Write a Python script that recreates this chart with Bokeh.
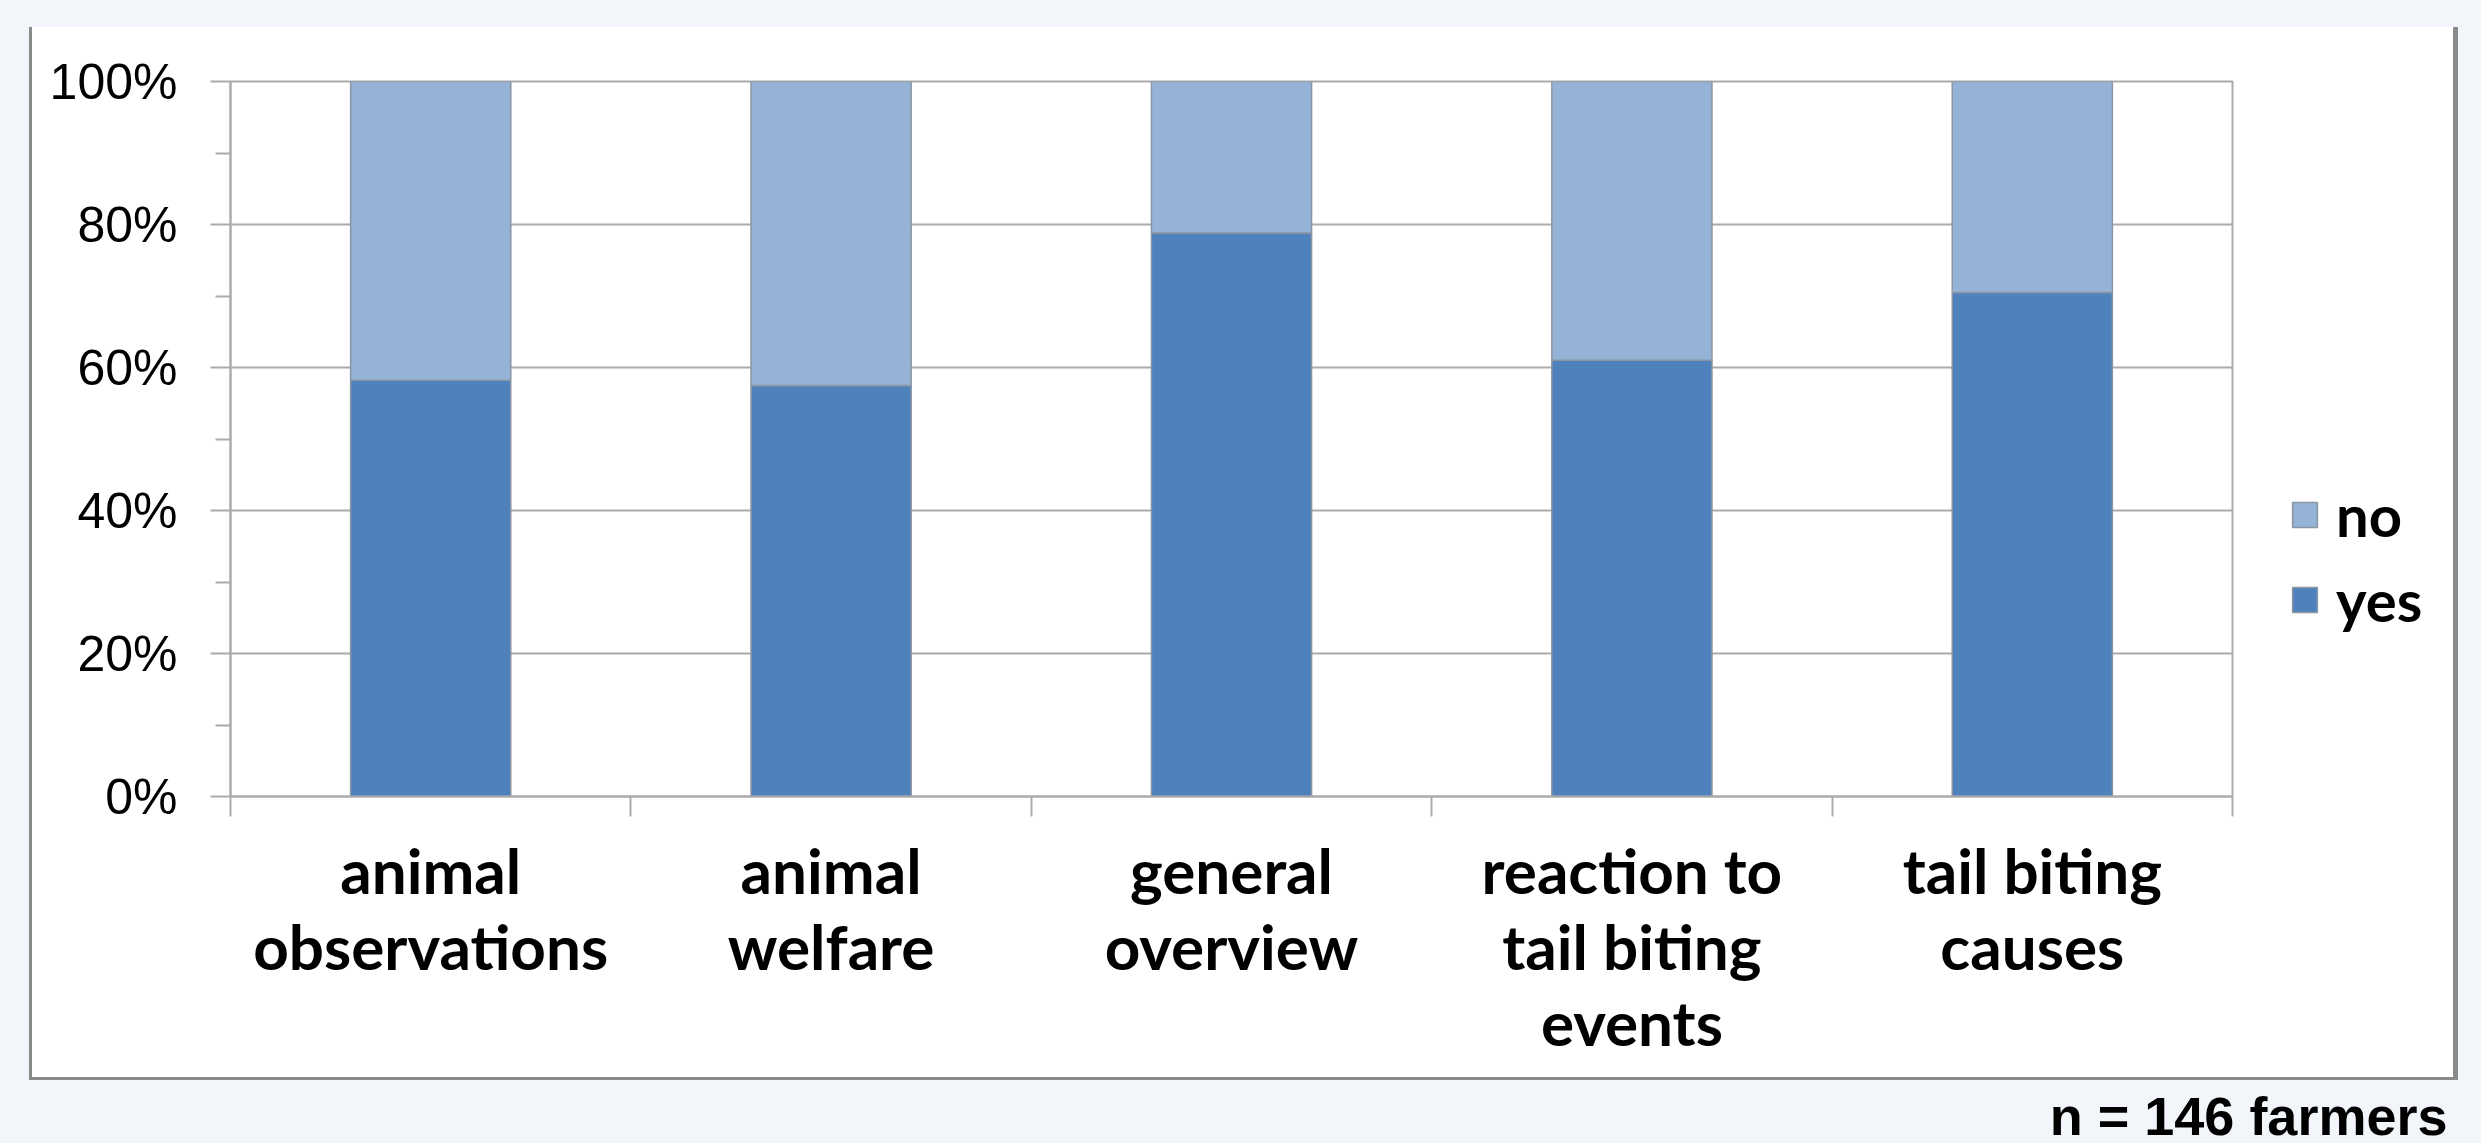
from bokeh.plotting import figure
from bokeh.models import (Range1d, FixedTicker, PrintfTickFormatter, LinearAxis, Grid,
                          Legend, LegendItem, Title, ColumnDataSource, GlobalInlineStyleSheet)
from bokeh.embed import file_html
from bokeh.resources import INLINE

# ---- data ----
categories = ["animal\nobservations", "animal\nwelfare", "general\noverview",
              "reaction to\ntail biting\nevents", "tail biting\ncauses"]
yes = [58.2, 57.5, 78.8, 61.0, 70.5]
no = [round(100 - v, 1) for v in yes]
series = ["yes", "no"]
y_ticks = [0, 20, 40, 60, 80, 100]
y_minor = [10, 30, 50, 70, 90]
footnote = "n = 146 farmers"

# ---- style ----
YES_C = "#4f81bd"
NO_C = "#95b3d7"
GRID_C = "#ababab"
EDGE_C = "#8a8a8a"
BG = "#f2f5fa"

PAGE_W, PAGE_H = 2481, 1143
FL, FR, FT, FB = 230, 2232, 81, 796            # plot frame on the page
RIGHT_PANEL = 800                              # room for the legend panel (beyond the window is hidden)
CANVAS_W = FR + RIGHT_PANEL
CANVAS_H = 1200

centers = [i + 0.5 for i in range(len(categories))]
bounds = list(range(len(categories) + 1))

p = figure(width=CANVAS_W, height=CANVAS_H, x_range=Range1d(0, len(categories)), y_range=Range1d(0, 100),
           output_backend="svg", toolbar_location=None,
           min_border_left=FL, min_border_right=RIGHT_PANEL,
           min_border_top=FT, min_border_bottom=CANVAS_H - FB,
           x_axis_type=None, y_axis_type=None)
# page background + white chart panel with a grey edge (left/right/bottom)
p.styles = {"background": (f"linear-gradient(white, white) 32px 27px / 2421px 1050px no-repeat, "
                           f"linear-gradient({EDGE_C}, {EDGE_C}) 29px 27px / 2429px 1053px no-repeat, "
                           f"{BG}")}
p.stylesheets = [GlobalInlineStyleSheet(css=f"html, body {{ margin: 0; overflow: hidden; background: {BG}; }}")]
p.border_fill_alpha = 0
p.background_fill_color = "white"
p.outline_line_color = GRID_C
p.outline_line_width = 2

yticker = FixedTicker(ticks=y_ticks, minor_ticks=y_minor)
grid = Grid(dimension=1, ticker=yticker, grid_line_color=GRID_C, grid_line_width=2)
p.add_layout(grid)

source = ColumnDataSource(dict(x=centers, yes=yes, no=no))
rs = p.vbar_stack(series, x="x", width=0.4, color=[YES_C, NO_C], source=source,
                  line_color="#8b96a3", line_width=1.5)

yaxis = LinearAxis(ticker=yticker, formatter=PrintfTickFormatter(format="%d%%"))
yaxis.axis_line_color = GRID_C
yaxis.axis_line_width = 2
yaxis.major_tick_line_color = GRID_C
yaxis.major_tick_line_width = 2
yaxis.minor_tick_line_color = GRID_C
yaxis.minor_tick_line_width = 2
yaxis.major_tick_out = 20
yaxis.major_tick_in = 0
yaxis.minor_tick_out = 15
yaxis.minor_tick_in = 0
yaxis.major_label_standoff = 33
yaxis.major_label_text_font = "Liberation Sans"
yaxis.major_label_text_font_size = "50px"
yaxis.major_label_text_color = "black"
p.add_layout(yaxis, "left")

xticker = FixedTicker(ticks=centers, minor_ticks=bounds)
xaxis = LinearAxis(ticker=xticker)
xaxis.major_label_overrides = {c: lab for c, lab in zip(centers, categories)}
xaxis.axis_line_color = GRID_C
xaxis.axis_line_width = 2
xaxis.major_tick_line_color = None
xaxis.major_tick_out = 0
xaxis.major_tick_in = 0
xaxis.minor_tick_line_color = GRID_C
xaxis.minor_tick_line_width = 2
xaxis.minor_tick_out = 20
xaxis.minor_tick_in = 0
xaxis.major_label_standoff = 16
xaxis.major_label_text_font = "Lato"
xaxis.major_label_text_font_style = "bold"
xaxis.major_label_text_font_size = "62px"
xaxis.major_label_text_line_height = 1.03
xaxis.major_label_text_color = "black"
p.add_layout(xaxis, "below")

legend = Legend(items=[LegendItem(label=series[1], renderers=[rs[1]]),
                       LegendItem(label=series[0], renderers=[rs[0]])],
                location=(57, FB - 634))
legend.glyph_width = 31
legend.glyph_height = 31
legend.label_standoff = 16
legend.spacing = 16
legend.padding = 0
legend.margin = 0
legend.border_line_alpha = 0
legend.background_fill_alpha = 0
legend.label_text_font = "Lato"
legend.label_text_font_style = "bold"
legend.label_text_font_size = "58px"
legend.label_text_color = "black"
p.add_layout(legend, "right")

note = Title(text=footnote, align="right", offset=-215, standoff=45,
             text_font="Liberation Sans", text_font_style="bold", text_font_size="54px",
             text_color="black")
p.add_layout(note, "below")

open("out.html", "w").write(file_html(p, INLINE))
